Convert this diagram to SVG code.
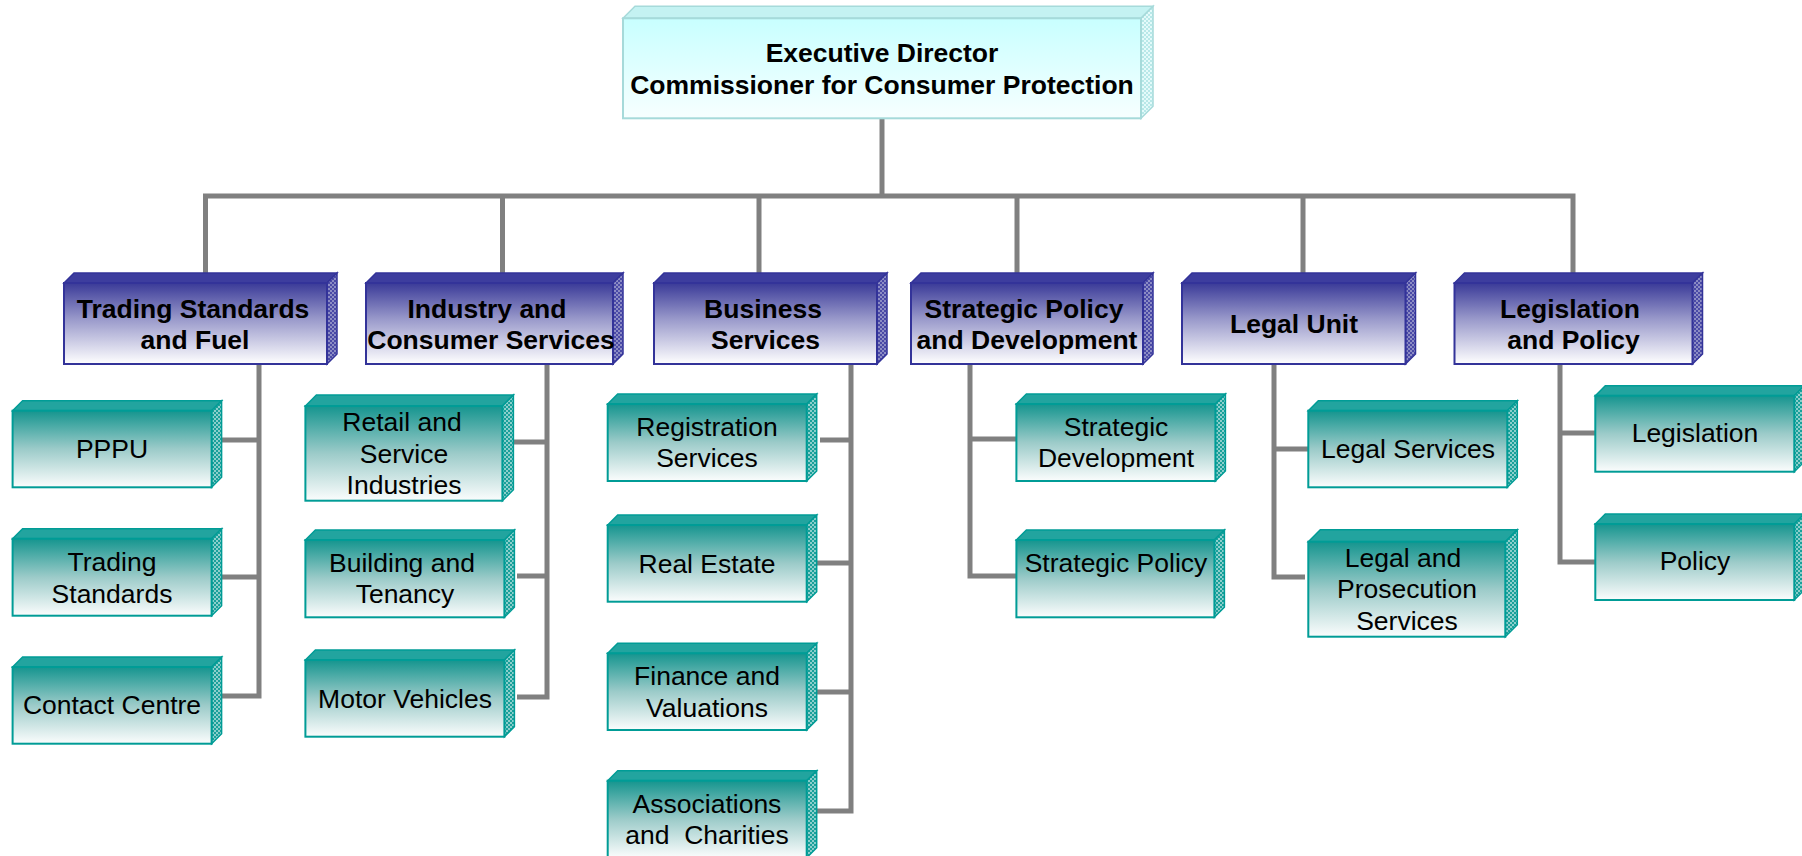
<svg xmlns="http://www.w3.org/2000/svg" width="1802" height="856" viewBox="0 0 1802 856">
<defs>
<linearGradient id="gTop" x1="0" y1="0" x2="0" y2="1"><stop offset="0" stop-color="#c8ffff"/><stop offset="1" stop-color="#f7ffff"/></linearGradient>
<linearGradient id="gBlue" x1="0" y1="0" x2="0" y2="1"><stop offset="0" stop-color="#3a3a98"/><stop offset="0.45" stop-color="#9a9acb"/><stop offset="1" stop-color="#ffffff"/></linearGradient>
<linearGradient id="gTeal" x1="0" y1="0" x2="0" y2="1"><stop offset="0" stop-color="#15958f"/><stop offset="0.5" stop-color="#9ccbc9"/><stop offset="1" stop-color="#fbfdfd"/></linearGradient>
<pattern id="pB" width="4" height="4" patternUnits="userSpaceOnUse"><rect width="4" height="4" fill="#4a4aa6"/><rect width="2" height="2" fill="#8c8cc4"/><rect x="2" y="2" width="2" height="2" fill="#8c8cc4"/></pattern>
<pattern id="pT" width="4" height="4" patternUnits="userSpaceOnUse"><rect width="4" height="4" fill="#1aa09a"/><rect width="2" height="2" fill="#8ccfcc"/><rect x="2" y="2" width="2" height="2" fill="#8ccfcc"/></pattern>
<pattern id="pC" width="4" height="4" patternUnits="userSpaceOnUse"><rect width="4" height="4" fill="#b8e8e8"/><rect width="2" height="2" fill="#e4fafa"/><rect x="2" y="2" width="2" height="2" fill="#e4fafa"/></pattern>
</defs>
<style>
text{font-family:"Liberation Sans",Arial,sans-serif;font-size:26.5px;fill:#000;text-anchor:middle}
.b text{font-weight:bold}
.top .front{fill:url(#gTop);stroke:#a6dada;stroke-width:2}
.top .tf{fill:#c4f2f2;stroke:#a6dada;stroke-width:1.5}
.top .rf{fill:url(#pC);stroke:#a6dada;stroke-width:1.5}
.l2 .front{fill:url(#gBlue);stroke:#333399;stroke-width:2}
.l2 .tf{fill:#3d3d9e;stroke:#333399;stroke-width:1.5}
.l2 .rf{fill:url(#pB);stroke:#333399;stroke-width:1.5}
.l3 .front{fill:url(#gTeal);stroke:#009c96;stroke-width:2}
.l3 .tf{fill:#22a49f;stroke:#009c96;stroke-width:1.5}
.l3 .rf{fill:url(#pT);stroke:#009c96;stroke-width:1.5}
.conn path{fill:none;stroke:#808080;stroke-width:5;stroke-linejoin:miter}
</style>
<g id="connectors" class="conn">
<path d="M882 118 V196"/>
<path d="M205.5 273 V196 H1573 V283"/>
<path d="M502.5 196 V273 M759 196 V273 M1017 196 V273 M1303 196 V273"/>
<path d="M259 364 V696 H221 M215 440 H259 M221 577 H259"/>
<path d="M547 364 V697 H517 M514 442 H547 M517 576 H547"/>
<path d="M851 364 V811 H817 M820 440 H851 M817 563 H851 M817 692 H851"/>
<path d="M970 364 V576 H1016 M970 439 H1016"/>
<path d="M1274 364 V577 H1305 M1274 449 H1308"/>
<path d="M1560 364 V562 H1595 M1560 433 H1595"/>
</g>
<g id="n-exec" class="top b">
<polygon class="tf" points="623,18.3 635,6.3 1153,6.3 1141,18.3"/>
<polygon class="rf" points="1141,18.3 1153,6.3 1153,106.3 1141,118.3"/>
<rect class="front" x="623" y="18.3" width="518" height="100"/>
<text x="882" y="61.7">Executive Director</text>
<text x="882" y="94">Commissioner for Consumer Protection</text>
</g>
<g id="n-tsf" class="l2 b">
<polygon class="tf" points="64,283 74,273 337,273 327,283"/>
<polygon class="rf" points="327,283 337,273 337,354 327,364"/>
<rect class="front" x="64" y="283" width="263" height="81"/>
<text x="193" y="317.7">Trading Standards</text>
<text x="195" y="349.3">and Fuel</text>
</g>
<g id="n-ics" class="l2 b">
<polygon class="tf" points="366,283 376,273 623,273 613,283"/>
<polygon class="rf" points="613,283 623,273 623,354 613,364"/>
<rect class="front" x="366" y="283" width="247" height="81"/>
<text x="487" y="317.7">Industry and</text>
<text x="491" y="349.3">Consumer Services</text>
</g>
<g id="n-bs" class="l2 b">
<polygon class="tf" points="654,283 664,273 887,273 877,283"/>
<polygon class="rf" points="877,283 887,273 887,354 877,364"/>
<rect class="front" x="654" y="283" width="223" height="81"/>
<text x="763" y="317.7">Business</text>
<text x="765.5" y="349.3">Services</text>
</g>
<g id="n-spd" class="l2 b">
<polygon class="tf" points="911,283 921,273 1153,273 1143,283"/>
<polygon class="rf" points="1143,283 1153,273 1153,354 1143,364"/>
<rect class="front" x="911" y="283" width="232" height="81"/>
<text x="1024" y="317.7">Strategic Policy</text>
<text x="1027" y="349.3">and Development</text>
</g>
<g id="n-lu" class="l2 b">
<polygon class="tf" points="1182,283 1192,273 1415.5,273 1405.5,283"/>
<polygon class="rf" points="1405.5,283 1415.5,273 1415.5,354 1405.5,364"/>
<rect class="front" x="1182" y="283" width="223.5" height="81"/>
<text x="1294" y="333">Legal Unit</text>
</g>
<g id="n-lp" class="l2 b">
<polygon class="tf" points="1454.5,283 1464.5,273 1702.5,273 1692.5,283"/>
<polygon class="rf" points="1692.5,283 1702.5,273 1702.5,354 1692.5,364"/>
<rect class="front" x="1454.5" y="283" width="238" height="81"/>
<text x="1570" y="317.7">Legislation</text>
<text x="1573.5" y="349.3">and Policy</text>
</g>
<g id="n-pppu" class="l3">
<polygon class="tf" points="12.6,410.7 22.6,400.7 221.6,400.7 211.6,410.7"/>
<polygon class="rf" points="211.6,410.7 221.6,400.7 221.6,477.3 211.6,487.3"/>
<rect class="front" x="12.6" y="410.7" width="199" height="76.6"/>
<text x="112" y="458">PPPU</text>
</g>
<g id="n-ts" class="l3">
<polygon class="tf" points="12.6,538.7 22.6,528.7 221.6,528.7 211.6,538.7"/>
<polygon class="rf" points="211.6,538.7 221.6,528.7 221.6,605.7 211.6,615.7"/>
<rect class="front" x="12.6" y="538.7" width="199" height="77"/>
<text x="112" y="570.7">Trading</text>
<text x="112" y="602.7">Standards</text>
</g>
<g id="n-cc" class="l3">
<polygon class="tf" points="12.6,667 22.6,657 221.6,657 211.6,667"/>
<polygon class="rf" points="211.6,667 221.6,657 221.6,733.7 211.6,743.7"/>
<rect class="front" x="12.6" y="667" width="199" height="76.7"/>
<text x="112" y="714.3">Contact Centre</text>
</g>
<g id="n-rsi" class="l3">
<polygon class="tf" points="305.4,406 316.4,395 513.4,395 502.4,406"/>
<polygon class="rf" points="502.4,406 513.4,395 513.4,489.7 502.4,500.7"/>
<rect class="front" x="305.4" y="406" width="197" height="94.7"/>
<text x="402" y="431">Retail and</text>
<text x="404" y="462.7">Service</text>
<text x="404" y="494.3">Industries</text>
</g>
<g id="n-bt" class="l3">
<polygon class="tf" points="305.4,540 315.4,530 514.4,530 504.4,540"/>
<polygon class="rf" points="504.4,540 514.4,530 514.4,607.3 504.4,617.3"/>
<rect class="front" x="305.4" y="540" width="199" height="77.3"/>
<text x="402" y="571.7">Building and</text>
<text x="405" y="603.3">Tenancy</text>
</g>
<g id="n-mv" class="l3">
<polygon class="tf" points="305.4,660 315.4,650 514.4,650 504.4,660"/>
<polygon class="rf" points="504.4,660 514.4,650 514.4,726.7 504.4,736.7"/>
<rect class="front" x="305.4" y="660" width="199" height="76.7"/>
<text x="405" y="707.7">Motor Vehicles</text>
</g>
<g id="n-rs" class="l3">
<polygon class="tf" points="607.7,404 617.7,394 816.7,394 806.7,404"/>
<polygon class="rf" points="806.7,404 816.7,394 816.7,471 806.7,481"/>
<rect class="front" x="607.7" y="404" width="199" height="77"/>
<text x="707" y="435.6">Registration</text>
<text x="707" y="467.3">Services</text>
</g>
<g id="n-re" class="l3">
<polygon class="tf" points="607.7,525 617.7,515 816.7,515 806.7,525"/>
<polygon class="rf" points="806.7,525 816.7,515 816.7,591.7 806.7,601.7"/>
<rect class="front" x="607.7" y="525" width="199" height="76.7"/>
<text x="707" y="572.7">Real Estate</text>
</g>
<g id="n-fv" class="l3">
<polygon class="tf" points="607.7,653.3 617.7,643.3 816.7,643.3 806.7,653.3"/>
<polygon class="rf" points="806.7,653.3 816.7,643.3 816.7,720 806.7,730"/>
<rect class="front" x="607.7" y="653.3" width="199" height="76.7"/>
<text x="707" y="685">Finance and</text>
<text x="707" y="716.7">Valuations</text>
</g>
<g id="n-ac" class="l3">
<polygon class="tf" points="607.7,780.7 617.7,770.7 816.7,770.7 806.7,780.7"/>
<polygon class="rf" points="806.7,780.7 816.7,770.7 816.7,847.7 806.7,857.7"/>
<rect class="front" x="607.7" y="780.7" width="199" height="77"/>
<text x="707" y="812.7">Associations</text>
<text x="707" y="844.3" xml:space="preserve">and  Charities</text>
</g>
<g id="n-sd" class="l3">
<polygon class="tf" points="1016.4,404 1026.4,394 1225.4,394 1215.4,404"/>
<polygon class="rf" points="1215.4,404 1225.4,394 1225.4,471 1215.4,481"/>
<rect class="front" x="1016.4" y="404" width="199" height="77"/>
<text x="1116" y="435.6">Strategic</text>
<text x="1116" y="467.3">Development</text>
</g>
<g id="n-sp" class="l3">
<polygon class="tf" points="1016.4,540 1026.4,530 1224.4,530 1214.4,540"/>
<polygon class="rf" points="1214.4,540 1224.4,530 1224.4,607.3 1214.4,617.3"/>
<rect class="front" x="1016.4" y="540" width="198" height="77.3"/>
<text x="1116" y="571.7">Strategic Policy</text>
</g>
<g id="n-ls" class="l3">
<polygon class="tf" points="1308.3,410.7 1318.3,400.7 1517.3,400.7 1507.3,410.7"/>
<polygon class="rf" points="1507.3,410.7 1517.3,400.7 1517.3,477.3 1507.3,487.3"/>
<rect class="front" x="1308.3" y="410.7" width="199" height="76.6"/>
<text x="1408" y="458.3">Legal Services</text>
</g>
<g id="n-lps" class="l3">
<polygon class="tf" points="1308.3,541.7 1320.3,529.7 1517.3,529.7 1505.3,541.7"/>
<polygon class="rf" points="1505.3,541.7 1517.3,529.7 1517.3,624.7 1505.3,636.7"/>
<rect class="front" x="1308.3" y="541.7" width="197" height="95"/>
<text x="1403" y="566.7">Legal and</text>
<text x="1407" y="598.3">Prosecution</text>
<text x="1407" y="630">Services</text>
</g>
<g id="n-leg" class="l3">
<polygon class="tf" points="1595.3,395.7 1605.3,385.7 1804.3,385.7 1794.3,395.7"/>
<polygon class="rf" points="1794.3,395.7 1804.3,385.7 1804.3,461.7 1794.3,471.7"/>
<rect class="front" x="1595.3" y="395.7" width="199" height="76"/>
<text x="1695" y="441.7">Legislation</text>
</g>
<g id="n-pol" class="l3">
<polygon class="tf" points="1595.3,524 1605.3,514 1804.3,514 1794.3,524"/>
<polygon class="rf" points="1794.3,524 1804.3,514 1804.3,590 1794.3,600"/>
<rect class="front" x="1595.3" y="524" width="199" height="76"/>
<text x="1695" y="570">Policy</text>
</g>
</svg>
